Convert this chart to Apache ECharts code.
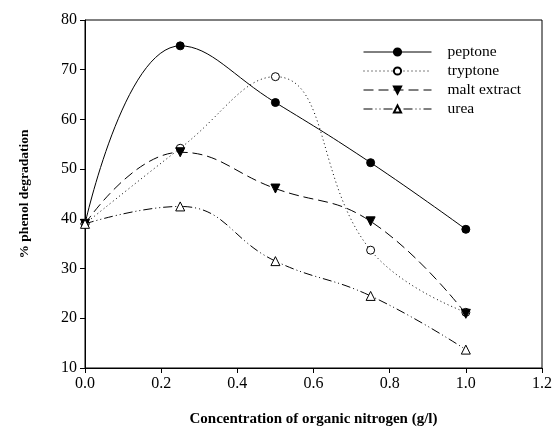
<!DOCTYPE html>
<html>
<head>
<meta charset="utf-8">
<script src="https://cdn.jsdelivr.net/npm/echarts@6/dist/echarts.min.js"></script>
<style>
    html, body { margin: 0; padding: 0; background: #fff; }
    #chart { width: 555px; height: 432px; }
</style>
</head>
<body>
<div id="chart"></div>
<script>
    // concentration of organic nitrogen (g/l)
    var concentration = [0, 0.25, 0.5, 0.75, 1.0];
    // % phenol degradation for each nitrogen source
    var peptone = [39.0, 74.8, 63.4, 51.3, 37.9];
    var tryptone = [39.0, 54.2, 68.6, 33.7, 21.2];
    var maltExtract = [39.0, 53.4, 46.1, 39.5, 20.9];
    var urea = [39.0, 42.5, 31.5, 24.5, 13.7];
    var seriesNames = ["peptone", "tryptone", "malt extract", "urea"];

    var serif = "Liberation Serif";

    function pairs(values) {
        return concentration.map(function (x, i) {
            return [x, values[i]];
        });
    }

    //每条曲线的样式
    function makeSeries(name, values, symbol, fill, dash, rotate, size) {
        return {
            name: name,
            type: "line",
            data: pairs(values),
            smooth: 0.45,
            symbol: symbol,
            symbolSize: size,
            symbolRotate: rotate,
            itemStyle: {color: fill, borderColor: "#000", borderWidth: 1},
            lineStyle: {color: "#000", width: 1, type: dash},
            emphasis: {disabled: true}
        };
    }

    var chart = echarts.init(document.getElementById("chart"));
    chart.setOption({
        animation: false,
        backgroundColor: "#fff",
        grid: {
            left: 85, top: 20, right: 8, bottom: 62,
            show: true, borderColor: "#000", borderWidth: 1
        },
        legend: {
            orient: "vertical",
            left: 358,
            top: 39,
            itemWidth: 68,
            itemHeight: 9,
            itemGap: 3,
            data: seriesNames,
            lineStyle: {width: 1},
            textStyle: {fontFamily: serif, fontSize: 15.5, color: "#000", padding: [0, 0, 0, 11]}
        },
        xAxis: {
            type: "value",
            min: 0, max: 1.2, interval: 0.2,
            name: "Concentration of organic nitrogen (g/l)",
            nameLocation: "middle",
            nameGap: 44,
            nameTextStyle: {fontFamily: serif, fontSize: 15, fontWeight: "bold", color: "#000"},
            axisLine: {lineStyle: {color: "#000", width: 1}},
            axisTick: {inside: false, length: 5, lineStyle: {color: "#000"}},
            axisLabel: {
                fontFamily: serif, fontSize: 16, color: "#000", margin: 8,
                formatter: function (v) { return v.toFixed(1); }
            },
            splitLine: {show: false}
        },
        yAxis: {
            type: "value",
            min: 10, max: 80, interval: 10,
            name: "% phenol degradation",
            nameLocation: "middle",
            nameGap: 53,
            nameTextStyle: {fontFamily: serif, fontSize: 13.5, fontWeight: "bold", color: "#000"},
            axisLine: {show: true, lineStyle: {color: "#000", width: 1}},
            axisTick: {show: true, inside: false, length: 5, lineStyle: {color: "#000"}},
            axisLabel: {fontFamily: serif, fontSize: 16, color: "#000", margin: 8},
            splitLine: {show: false}
        },
        series: [
            makeSeries("peptone", peptone, "circle", "#000", "solid", 0, 8),
            makeSeries("tryptone", tryptone, "circle", "#fff", [1, 3], 0, 8),
            makeSeries("malt extract", maltExtract, "triangle", "#000", [10, 5], 180, 9),
            makeSeries("urea", urea, "triangle", "#fff", [9, 3, 1, 3, 1, 3], 0, 9)
        ]
    });
</script>
</body>
</html>
